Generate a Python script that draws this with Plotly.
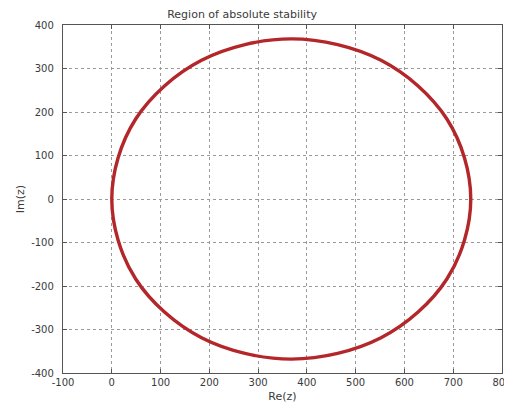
import plotly.graph_objects as go

# Boundary points of the stability region
re_z = [736, 723, 687, 628, 552, 463, 368, 273, 184, 108, 49, 13, 0,
        13, 49, 108, 184, 273, 368, 463, 552, 628, 687, 723, 736]
im_z = [0, 95, 184, 260, 319, 355, 368, 355, 319, 260, 184, 95, 0,
        -95, -184, -260, -319, -355, -368, -355, -319, -260, -184, -95, 0]

x_ticks = [-100, 0, 100, 200, 300, 400, 500, 600, 700, 800]
y_ticks = [-400, -300, -200, -100, 0, 100, 200, 300, 400]

fig = go.Figure()
fig.add_trace(go.Scatter(x=re_z, y=im_z, mode="lines",
                         line=dict(color="#b3262a", width=3.4, shape="spline", smoothing=1.0),
                         hoverinfo="skip", showlegend=False))

fam = "DejaVu Sans, Liberation Sans, sans-serif"
tfont = dict(family=fam, size=10, color="#3a3a3a")

axis_common = dict(showgrid=True, gridcolor="#9a9a9a", griddash="dot", gridwidth=1,
                   showline=True, linecolor="#555555", linewidth=1.3, mirror="ticks",
                   ticks="inside", ticklen=4, tickcolor="#555555", zeroline=False,
                   tickfont=tfont, automargin=False)

# page body has an 8px margin: the figure is sized and offset accordingly
fig.update_layout(
    width=504, height=406,
    margin=dict(l=55, r=10, t=17, b=41),
    paper_bgcolor="white", plot_bgcolor="white",
    font=tfont,
    title=dict(text="Region of absolute stability", x=0.408, xref="paper", xanchor="center",
               y=0.995, yref="container", yanchor="top",
               font=dict(family=fam, size=11, color="#3a3a3a")),
    xaxis=dict(range=[-100, 800], tickvals=x_ticks, ticktext=[str(v) for v in x_ticks],
               title=dict(text="Re(z)", standoff=5, font=dict(family=fam, size=11, color="#3a3a3a")),
               **axis_common),
    yaxis=dict(range=[-400, 400], tickvals=y_ticks, ticktext=[str(v) for v in y_ticks],
               ticklabelstandoff=6,
               title=dict(text="Im(z)", standoff=4, font=dict(family=fam, size=11, color="#3a3a3a")),
               **axis_common),
)

fig.write_html("out.html")
